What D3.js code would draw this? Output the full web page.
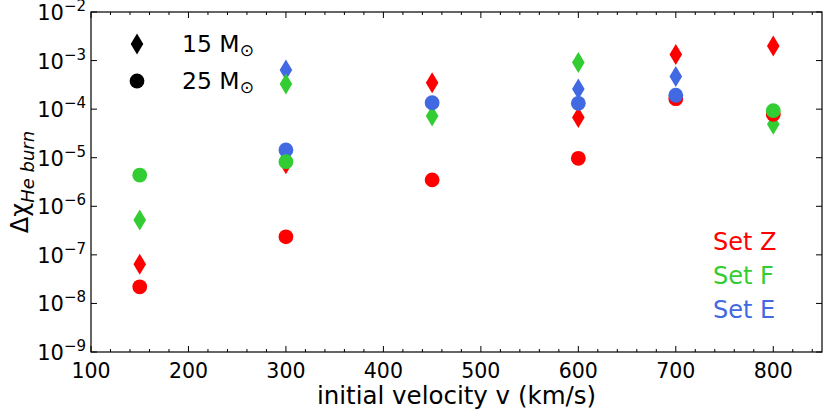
<!DOCTYPE html>
<html lang="en">
<head>
	<meta charset="utf-8">
	<title>Delta X He burn</title>
	<script src="https://d3js.org/d3.v7.min.js"></script>
	<style type="text/css">
		body { margin: 0; background: #fff; }
		text { font-family: "DejaVu Sans", sans-serif; }
	</style>
</head>
<body>
	<script type="text/javascript">
	// data
	var velocities = [150, 300, 450, 600, 700, 800]
	var setZ15 = [6.4e-8, 7.5e-6, 3.5e-4, 6.7e-5, 1.34e-3, 2.0e-3]
	var setZ25 = [2.2e-8, 2.35e-7, 3.5e-6, 9.7e-6, 1.64e-4, 7.8e-5]
	var setF15 = [5.2e-7, 3.3e-4, 7.2e-5, 9.1e-4, null, 4.9e-5]
	var setF25 = [4.4e-6, 8.3e-6, null, null, null, 9.3e-5]
	var setE15 = [null, 6.4e-4, null, 2.6e-4, 4.7e-4, null]
	var setE25 = [null, 1.44e-5, 1.36e-4, 1.32e-4, 1.93e-4, null]
	var xTicks = [100, 200, 300, 400, 500, 600, 700, 800]
	var yExps = [-9, -8, -7, -6, -5, -4, -3, -2]
	var setNames = ["Set Z", "Set F", "Set E"]

	var red = "#ff0000", green = "#32cd32", blue = "#4169e1"

	var w = 830, h = 415
	var padL = 91, padT = 12, padR = 822, padB = 352

	var svg = d3.select("body").append("svg")
		.attr("width", w).attr("height", h)

	var xScale = d3.scaleLinear().domain([100, 850]).range([padL, padR])
	var yScale = d3.scaleLog().domain([1e-9, 1e-2]).range([padB, padT])

	// x ticks bottom + top (pointing inward)
	var xMinor = d3.range(100, 851, 20).filter(v => v % 100 != 0)
	function xTicksDraw(y, dir) {
		var g = svg.append("g")
		g.selectAll(".maj").data(xTicks).enter().append("line")
			.attr("x1", d => xScale(d)).attr("x2", d => xScale(d))
			.attr("y1", y).attr("y2", y + dir * 6)
			.attr("stroke", "#000").attr("stroke-width", 1)
		g.selectAll(".min").data(xMinor).enter().append("line")
			.attr("x1", d => xScale(d)).attr("x2", d => xScale(d))
			.attr("y1", y).attr("y2", y + dir * 3)
			.attr("stroke", "#000").attr("stroke-width", 1)
	}
	xTicksDraw(padB, -1)
	xTicksDraw(padT, 1)

	// y ticks left + right
	function yTicksDraw(x, dir) {
		svg.append("g").selectAll("line").data(yExps).enter().append("line")
			.attr("x1", x).attr("x2", x + dir * 6)
			.attr("y1", d => yScale(Math.pow(10, d))).attr("y2", d => yScale(Math.pow(10, d)))
			.attr("stroke", "#000").attr("stroke-width", 1)
	}
	yTicksDraw(padL, 1)
	yTicksDraw(padR, -1)

	// frame
	svg.append("rect")
		.attr("x", padL).attr("y", padT)
		.attr("width", padR - padL).attr("height", padB - padT)
		.attr("fill", "none").attr("stroke", "#000").attr("stroke-width", 1.2)

	// x tick labels
	svg.append("g").selectAll("text").data(xTicks).enter().append("text")
		.attr("x", d => xScale(d)).attr("y", 378)
		.attr("text-anchor", "middle")
		.style("font-size", "20.5px")
		.text(d => d)

	// y tick labels 10^n
	var yl = svg.append("g").selectAll("text").data(yExps).enter().append("text")
		.attr("x", 86).attr("y", d => yScale(Math.pow(10, d)) + 8)
		.attr("text-anchor", "end")
		.style("font-size", "21px")
	yl.append("tspan").text("10")
	yl.append("tspan").attr("dy", -9).style("font-size", "15px").text(d => "\u2212" + (-d))

	// axis titles
	svg.append("text")
		.attr("x", (padL + padR) / 2).attr("y", 404)
		.attr("text-anchor", "middle")
		.style("font-size", "24.5px")
		.text("initial velocity v (km/s)")

	var ylab = svg.append("text")
		.attr("transform", "translate(" + 28 + "," + 182 + ") rotate(-90)")
		.attr("text-anchor", "middle")
		.style("font-size", "24px")
	ylab.append("tspan").text("\u0394\u03c7")
	ylab.append("tspan").attr("dy", 6).style("font-size", "18px").style("font-style", "italic").text("He burn")

	// markers
	var diamond = "M0,-10.5L6.3,0L0,10.5L-6.3,0Z"
	function plotSet(vals, color, shape) {
		var pts = velocities.map((v, i) => ({ v: v, y: vals[i] })).filter(d => d.y != null)
		var g = svg.append("g")
		if (shape == "d") {
			g.selectAll("path").data(pts).enter().append("path")
				.attr("d", diamond)
				.attr("transform", d => "translate(" + xScale(d.v) + "," + yScale(d.y) + ")")
				.attr("fill", color)
		} else {
			g.selectAll("circle").data(pts).enter().append("circle")
				.attr("cx", d => xScale(d.v)).attr("cy", d => yScale(d.y))
				.attr("r", 7.4).attr("fill", color)
		}
	}
	plotSet(setZ15, red, "d")
	plotSet(setE15, blue, "d")
	plotSet(setF15, green, "d")
	plotSet(setZ25, red, "o")
	plotSet(setE25, blue, "o")
	plotSet(setF25, green, "o")

	// mass legend
	svg.append("path").attr("d", diamond)
		.attr("transform", "translate(137,44)").attr("fill", "#000")
	svg.append("circle").attr("cx", 137).attr("cy", 81).attr("r", 7.4).attr("fill", "#000")
	var masses = ["15", "25"]
	masses.forEach(function (m, i) {
		var t = svg.append("text")
			.attr("x", 182).attr("y", 52 + i * 37)
			.style("font-size", "23.5px")
		t.append("tspan").text(m + " M")
		t.append("tspan").attr("dy", 4).style("font-size", "17px").text("\u2299")
	})

	// set labels
	var setColors = [red, green, blue]
	svg.append("g").selectAll("text").data(setNames).enter().append("text")
		.attr("x", 713).attr("y", (d, i) => 250 + i * 34)
		.attr("fill", (d, i) => setColors[i])
		.style("font-size", "24px")
		.text(d => d)
	</script>
</body>
</html>
